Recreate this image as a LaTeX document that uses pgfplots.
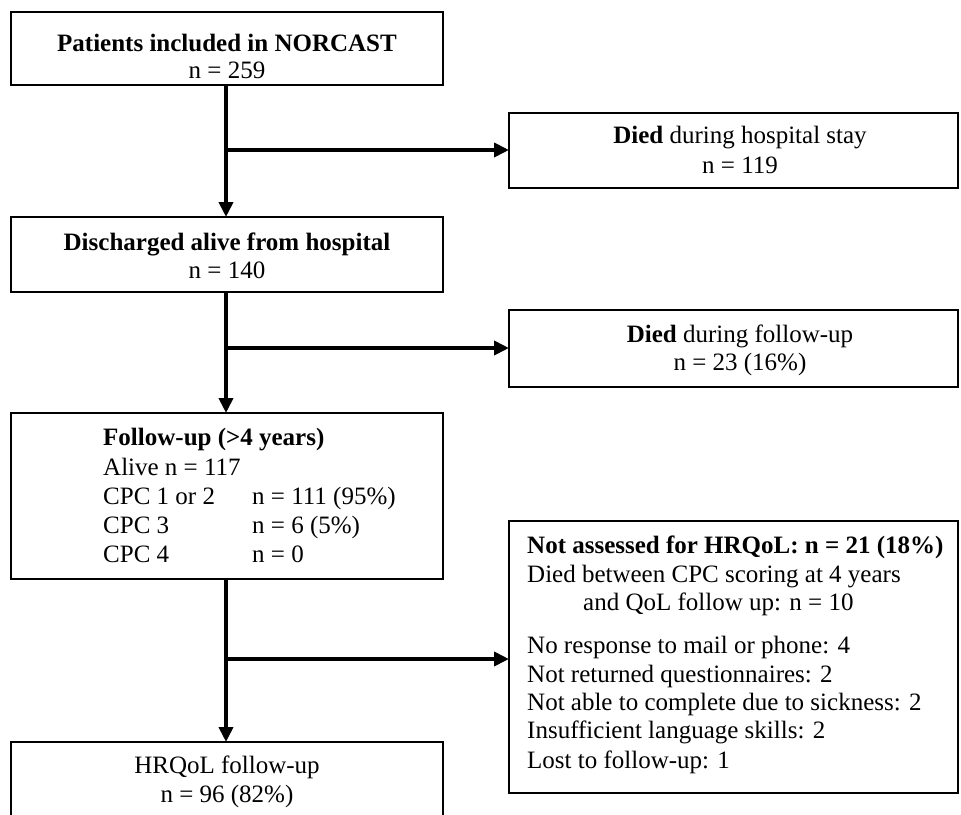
\documentclass[border=0pt]{standalone}
\usepackage{fontspec}
\setmainfont{Liberation Serif}
\usepackage{pgfplots}
\pgfplotsset{compat=1.18}
\usetikzlibrary{arrows.meta}
\newcommand{\fs}{\fontsize{25bp}{29bp}\selectfont}
\begin{document}
\begin{tikzpicture}
\begin{axis}[width=961bp,height=815bp,scale only axis,
  xmin=0,xmax=961,ymin=0,ymax=815,y dir=reverse,hide axis,clip=false,
  every axis plot/.append style={black,mark=none,line cap=rect,line join=miter}]
% boxes
\addplot[line width=2bp] coordinates {(11,12)(443,12)(443,85)(11,85)(11,12)};
\addplot[line width=2bp] coordinates {(509,113)(958,113)(958,188)(509,188)(509,113)};
\addplot[line width=2bp] coordinates {(11,217)(443,217)(443,292)(11,292)(11,217)};
\addplot[line width=2bp] coordinates {(509,310)(958,310)(958,387)(509,387)(509,310)};
\addplot[line width=2bp] coordinates {(11,413)(443,413)(443,579)(11,579)(11,413)};
\addplot[line width=2bp] coordinates {(509,521)(958,521)(958,793)(509,793)(509,521)};
\addplot[line width=2bp,line cap=butt] coordinates {(11,815)(11,742)(443,742)(443,815)};
% arrows
\addplot[line width=4bp,line cap=butt,-{Triangle[length=15bp,width=14bp]}] coordinates {(226,86)(226,217)};
\addplot[line width=4bp,line cap=butt,-{Triangle[length=15bp,width=14bp]}] coordinates {(226,150)(509,150)};
\addplot[line width=4bp,line cap=butt,-{Triangle[length=15bp,width=14bp]}] coordinates {(226,293)(226,413)};
\addplot[line width=4bp,line cap=butt,-{Triangle[length=15bp,width=14bp]}] coordinates {(226,348)(509,348)};
\addplot[line width=4bp,line cap=butt,-{Triangle[length=15bp,width=14bp]}] coordinates {(226,580)(226,742)};
\addplot[line width=4bp,line cap=butt,-{Triangle[length=15bp,width=14bp]}] coordinates {(226,659)(509,659)};
% texts
\node[anchor=base,font=\fs,inner sep=0pt] at (axis cs:227,52) {\textbf{Patients included in NORCAST}};
\node[anchor=base,font=\fs,inner sep=0pt] at (axis cs:227,79) {n = 259};
\node[anchor=base,font=\fs,inner sep=0pt] at (axis cs:740,144) {\textbf{Died} during hospital stay};
\node[anchor=base,font=\fs,inner sep=0pt] at (axis cs:740,174) {n = 119};
\node[anchor=base,font=\fs,inner sep=0pt] at (axis cs:227,250) {\textbf{Discharged alive from hospital}};
\node[anchor=base,font=\fs,inner sep=0pt] at (axis cs:227,278) {n = 140};
\node[anchor=base,font=\fs,inner sep=0pt] at (axis cs:740,342) {\textbf{Died} during follow-up};
\node[anchor=base,font=\fs,inner sep=0pt] at (axis cs:740,370) {n = 23 (16\%)};
\node[anchor=base west,font=\fs,inner sep=0pt] at (axis cs:103,445) {\textbf{Follow-up (>4 years)}};
\node[anchor=base west,font=\fs,inner sep=0pt] at (axis cs:103,475) {Alive n = 117};
\node[anchor=base west,font=\fs,inner sep=0pt] at (axis cs:103,504) {CPC 1 or 2};
\node[anchor=base west,font=\fs,inner sep=0pt] at (axis cs:252,504) {n = 111 (95\%)};
\node[anchor=base west,font=\fs,inner sep=0pt] at (axis cs:103,533) {CPC 3};
\node[anchor=base west,font=\fs,inner sep=0pt] at (axis cs:252,533) {n = 6 (5\%)};
\node[anchor=base west,font=\fs,inner sep=0pt] at (axis cs:103,562) {CPC 4};
\node[anchor=base west,font=\fs,inner sep=0pt] at (axis cs:252,562) {n = 0};
\node[anchor=base west,font=\fs,inner sep=0pt] at (axis cs:527,553) {\textbf{Not assessed for HRQoL: n = 21 (18\%)}};
\node[anchor=base west,font=\fs,inner sep=0pt] at (axis cs:527,582) {Died between CPC scoring at 4 years};
\node[anchor=base west,font=\fs,inner sep=0pt] at (axis cs:583,610) {and QoL follow up: n = 10};
\node[anchor=base west,font=\fs,inner sep=0pt] at (axis cs:527,653) {No response to mail or phone: 4};
\node[anchor=base west,font=\fs,inner sep=0pt] at (axis cs:527,682) {Not returned questionnaires: 2};
\node[anchor=base west,font=\fs,inner sep=0pt] at (axis cs:527,710) {Not able to complete due to sickness: 2};
\node[anchor=base west,font=\fs,inner sep=0pt] at (axis cs:527,738) {Insufficient language skills: 2};
\node[anchor=base west,font=\fs,inner sep=0pt] at (axis cs:527,768) {Lost to follow-up: 1};
\node[anchor=base,font=\fs,inner sep=0pt] at (axis cs:227,773) {HRQoL follow-up};
\node[anchor=base,font=\fs,inner sep=0pt] at (axis cs:227,802) {n = 96 (82\%)};
\end{axis}
\pgfresetboundingbox
\useasboundingbox (current axis.south west) rectangle (current axis.north east);
\end{tikzpicture}
\end{document}
